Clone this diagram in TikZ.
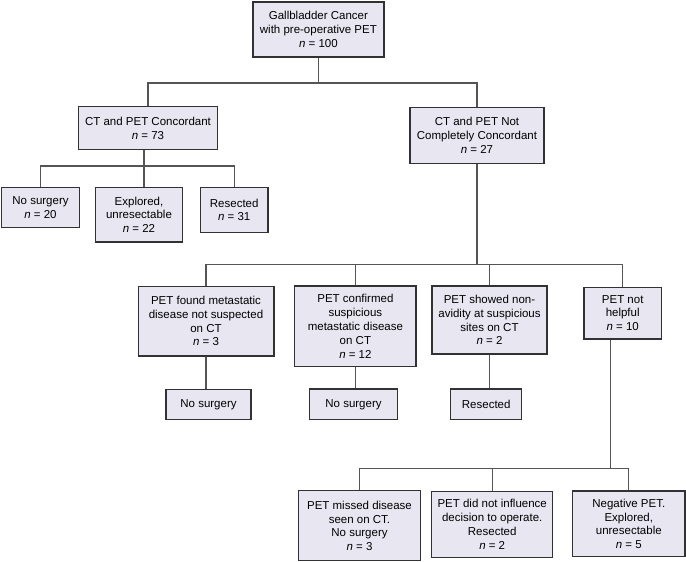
\documentclass[tikz,border=0pt]{standalone}
\usepackage{fontspec}
\setmainfont{Liberation Sans}
\definecolor{boxfill}{RGB}{232,230,241}
\definecolor{boxline}{RGB}{50,50,50}
\definecolor{connline}{RGB}{85,85,85}
\begin{document}
\begin{tikzpicture}[x=1pt,y=-1pt,
  font=\fontsize{11.5}{13.8}\selectfont,
  box/.style={draw=boxline, fill=boxfill, line width=1.3pt, align=center, inner sep=0pt},
  conn/.style={draw=connline, line width=1.2pt}]
\useasboundingbox (0,0) rectangle (686,562);
% nodes
\node[box, minimum width=131pt, minimum height=55pt] (top) at (318.4,29.5) {Gallbladder Cancer\\with pre-operative PET\\\textit{n} = 100};
\node[box, minimum width=138.5pt, minimum height=42.6pt] (L1) at (148,128) {CT and PET Concordant\\\textit{n} = 73};
\node[box, minimum width=134pt, minimum height=55.6pt] (R1) at (477,135.5) {CT and PET Not\\Completely Concordant\\\textit{n} = 27};
\node[box, minimum width=77.5pt, minimum height=40pt] (A1) at (40.5,207.3) {No surgery\\\textit{n} = 20};
\node[box, minimum width=86.6pt, minimum height=54.7pt] (A2) at (139,214.7) {Explored,\\unresectable\\\textit{n} = 22};
\node[box, minimum width=67.7pt, minimum height=45pt] (A3) at (234.2,209.8) {Resected\\\textit{n} = 31};
\node[box, minimum width=135.7pt, minimum height=69.7pt] (B1) at (206,321) {PET found metastatic\\disease not suspected\\on CT\\\textit{n} = 3};
\node[box, minimum width=121.3pt, minimum height=80.7pt] (B2) at (355.4,326.3) {PET confirmed\\suspicious\\metastatic disease\\on CT\\\textit{n} = 12};
\node[box, minimum width=115pt, minimum height=68pt] (B3) at (489.5,320) {PET showed non-\\avidity at suspicious\\sites on CT\\\textit{n} = 2};
\node[box, minimum width=77.3pt, minimum height=51.7pt] (B4) at (622.7,313) {PET not\\helpful\\\textit{n} = 10};
\node[box, minimum width=85pt, minimum height=30pt] (C1) at (208.5,404.3) {No surgery};
\node[box, minimum width=87.6pt, minimum height=30.7pt] (C2) at (353.5,404.3) {No surgery};
\node[box, minimum width=71pt, minimum height=30.7pt] (C3) at (486.2,404.3) {Resected};
\node[box, minimum width=122.4pt, minimum height=70pt] (D1) at (359.5,525.8) {PET missed disease\\seen on CT.\\No surgery\\\textit{n} = 3};
\node[box, minimum width=121pt, minimum height=66pt] (D2) at (492.2,524.3) {PET did not influence\\decision to operate.\\Resected\\\textit{n} = 2};
\node[box, minimum width=112.3pt, minimum height=65.7pt] (D3) at (628.8,523.8) {Negative PET.\\Explored,\\unresectable\\\textit{n} = 5};
% bus coordinates
\coordinate (h1) at (0,83);
\coordinate (h2) at (0,166);
\coordinate (h3) at (0,264.7);
\coordinate (h4) at (0,468.3);
\coordinate (v2) at (144,0);
\coordinate (v4) at (610.5,0);
% connectors
\draw[conn] (top.south) -- (top.south |- h1);
\draw[conn] (L1.north) -- (L1.north |- h1) -- (R1.north |- h1) -- (R1.north);
\draw[conn] (L1.south -| v2) -- (v2 |- h2);
\draw[conn] (A1.north) -- (A1.north |- h2) -- (A3.north |- h2) -- (A3.north);
\draw[conn] (A2.north -| v2) -- (v2 |- h2);
\draw[conn] (R1.south) -- (R1.south |- h3);
\draw[conn] (B1.north) -- (B1.north |- h3) -- (B4.north |- h3) -- (B4.north);
\draw[conn] (B2.north) -- (B2.north |- h3);
\draw[conn] (B3.north) -- (B3.north |- h3);
\draw[conn] (B1.south) -- (B1.south |- C1.north);
\draw[conn] (B2.south) -- (B2.south |- C2.north);
\draw[conn] (B3.south) -- (B3.south |- C3.north);
\draw[conn] (B4.south -| v4) -- (v4 |- h4);
\draw[conn] (D1.north) -- (D1.north |- h4) -- (D3.north |- h4) -- (D3.north);
\draw[conn] (D2.north) -- (D2.north |- h4);
\end{tikzpicture}
\end{document}
